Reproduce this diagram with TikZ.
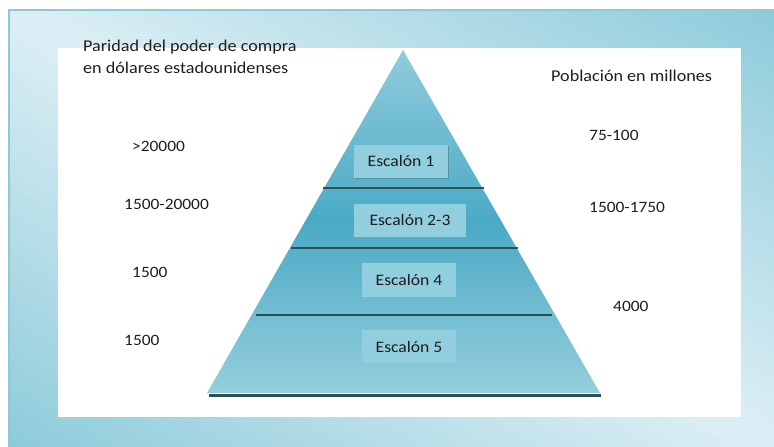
\documentclass[tikz,border=0pt]{standalone}
\usepackage{fontspec}
\setmainfont{Carlito}[FakeStretch=1.1]
\usetikzlibrary{calc,shadows}
\definecolor{bgdark}{HTML}{8DCBDA}
\definecolor{bglight}{HTML}{DDEFF5}
\definecolor{bgborder}{HTML}{8CCAD8}
\definecolor{pyrtop}{HTML}{8FCCDB}
\definecolor{pyrmid}{HTML}{4AAAC5}
\definecolor{pyrbot}{HTML}{96CEDD}
\definecolor{divcol}{HTML}{2F4F56}
\definecolor{boxfill}{HTML}{91CEDE}
\definecolor{txt}{HTML}{1E1E1E}
\begin{document}
\begin{tikzpicture}[x=1pt,y=-1pt,
  hdr/.style={anchor=base west, inner sep=0pt, text=txt, font=\fontsize{16.5}{22}\selectfont},
  num/.style={anchor=base west, inner sep=0pt, text=txt, font=\fontsize{15.8}{19}\selectfont},
  stepbox/.style={fill=boxfill, inner sep=0pt, minimum width=94pt, minimum height=33pt, text=txt, font=\fontsize{16}{19}\selectfont},
  divline/.style={draw=divcol, line width=1.8pt},
  pyrbase/.style={draw=divcol, line width=3pt}]
\useasboundingbox (0,0) rectangle (774,447);
\fill[white] (0,0) rectangle (774,447);
% background gradient: light along the main diagonal, dark at the other corners
\begin{scope}
\clip (8,9) rectangle (774,447);
\foreach \i in {-40,...,39} {
  \pgfmathsetmacro{\ca}{\i/40}
  \pgfmathsetmacro{\cb}{(\i+1)/40+0.003}
  \pgfmathsetmacro{\cm}{abs((\i+0.5)/40)*100}
  \fill[bgdark!\cm!bglight] ({8+766*(\ca-1)},-429) -- ({8+766*(\ca+2)},885) -- ({8+766*(\cb+2)},885) -- ({8+766*(\cb-1)},-429) -- cycle;
}
\end{scope}
\draw[bgborder, line width=2pt] (9,447) -- (9,10) -- (774,10);
% white panel
\fill[white] (58,48) rectangle (741,417);
% pyramid
\coordinate (apex) at (403,50);
\coordinate (bl) at (207,393);
\coordinate (br) at (600,393);
\shade[top color=pyrtop, bottom color=pyrbot, middle color=pyrmid] (apex) -- (br) -- (bl) -- cycle;
\draw[divline] (323,188) -- (484,188);
\draw[divline] (291,248) -- (518,248);
\draw[divline] (256,315) -- (552,315);
\draw[pyrbase] (209,395) -- (601,395);
% steps
\node[stepbox, drop shadow={shadow xshift=1.2pt, shadow yshift=-1.2pt, opacity=0.35, fill=black!70}] (e1) at (401,161.5) {Escalón 1};
\node[stepbox, minimum width=112pt] (e23) at (410,220.5) {Escalón 2-3};
\node[stepbox, minimum height=34pt] (e4) at (409,280) {Escalón 4};
\node[stepbox] (e5) at (409,346.5) {Escalón 5};
% left labels
\node[hdr, align=left] (lh) at (83,73) {Paridad del poder de compra\\en dólares estadounidenses};
\node[num] (l1) at (132,151) {>20000};
\node[num] (l2) at (124,209) {1500-20000};
\node[num] (l3) at (132,277) {1500};
\node[num] (l4) at (124,345) {1500};
% right labels
\node[hdr] (rh) at (551,81) {Población en millones};
\node[num] (r1) at (589,140) {75-100};
\node[num] (r2) at (589,212) {1500-1750};
\node[num] (r3) at (613,311) {4000};
\end{tikzpicture}
\end{document}
